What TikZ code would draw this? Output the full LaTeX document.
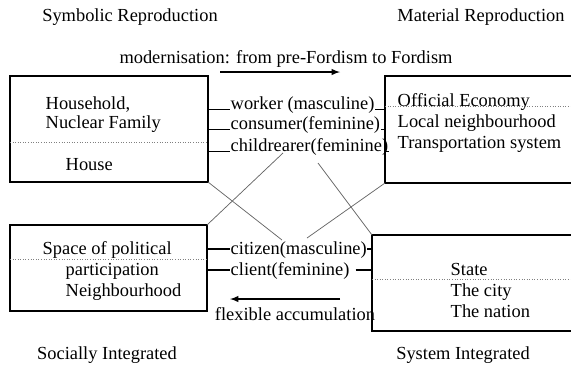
\documentclass[tikz,border=0pt]{standalone}
\usepackage{fontspec}
\setmainfont{Liberation Serif}
\usetikzlibrary{calc}

\begin{document}
\begin{tikzpicture}[x=0.543pt, y=-0.543pt, thick,
  txt/.style={inner sep=0pt, anchor=west, text height=1.5ex, text depth=.25ex},
  title/.style={inner sep=0pt},
  sep/.style={thin, densely dotted, gray},
  cross/.style={thin, gray!80!black},
  stub/.style={semithick},
]
  \useasboundingbox (0,0) rectangle (571,367);
  % corners of the four boxes
  \coordinate (A1) at (10,76);   \coordinate (A2) at (208,182);
  \coordinate (B1) at (385,76);  \coordinate (B2) at (571,183);
  \coordinate (C1) at (10,225);  \coordinate (C2) at (207,311);
  \coordinate (D1) at (372,235); \coordinate (D2) at (571,331);
  \draw (A1) rectangle (A2);
  \draw (B2 |- B1) -- (B1) |- (B2);
  \draw (C1) rectangle (C2);
  \draw (D2 |- D1) -- (D1) |- (D2);
  \draw[sep] (10,142) -- (208,142);
  \draw[sep] (385,106) -- (571,106);
  \draw[sep] (10,259) -- (207,259);
  \draw[sep] (372,279) -- (571,279);
  % headings
  \node[title] (symbolic) at (130,17) {Symbolic Reproduction};
  \node[title] (material) at (481,17) {Material Reproduction};
  \node[title] (socially) at (107,355) {Socially Integrated};
  \node[title] (system)   at (463,355) {System Integrated};
  \node[title] (modern)   at (286,59) {modernisation: from pre-Fordism to Fordism};
  \node[title] (flexible) at (295,314) {flexible accumulation};
  % box texts
  \node[txt] (household) at (45,104) {Household,};
  \node[txt] (nuclear)   at (45,123) {Nuclear Family};
  \node[txt] (house)     at (65,165) {House};
  \node[txt] (official)  at (397,101) {Official Economy};
  \node[txt] (local)     at (397,122) {Local neighbourhood};
  \node[txt] (transport) at (397,143) {Transportation system};
  \node[txt] (space)     at (42,249) {Space of political};
  \node[txt] (particip)  at (65,270) {participation};
  \node[txt] (neighbour) at (65,291) {Neighbourhood};
  \node[txt] (state)     at (450,270) {State};
  \node[txt] (city)      at (450,291) {The city};
  \node[txt] (nation)    at (450,312) {The nation};
  % roles between the boxes
  \node[txt] (worker)      at (230,104) {worker (masculine)};
  \node[txt] (consumer)    at (230,124) {consumer(feminine)};
  \node[txt] (childrearer) at (230,146) {childrearer(feminine)};
  \node[txt] (citizen)     at (230,249) {citizen(masculine)};
  \node[txt] (client)      at (230,270) {client(feminine)};
  \foreach \r in {worker,consumer,childrearer} {
    \draw[stub] (\r.base west -| A2) -- (\r.base west);
    \draw[stub] (\r.base east) -- (\r.base east -| B1);
  }
  \draw[stub] (citizen.west -| C2) -- (citizen.west);
  \draw[stub] (citizen.east) -- (citizen.east -| D1);
  \draw[stub] (client.west -| C2) -- (client.west);
  \draw[stub] ([xshift=3pt]client.east) -- (client.east -| D1);
  % arrows
  \coordinate (m1) at (220,72);  \coordinate (m2) at (340,72);
  \coordinate (f1) at (340,299); \coordinate (f2) at (230,299);
  \draw[semithick, -latex] (m1) -- (m2);
  \draw[semithick, -latex] (f1) -- (f2);
  % crossing lines
  \coordinate (x1) at (282,240); \coordinate (x2) at (283,153);
  \coordinate (x3) at (318,163); \coordinate (x4) at (307,238);
  \draw[cross] (A2) -- (x1);
  \draw[cross] (x2) -- (C2 |- C1);
  \draw[cross] (x3) -- (D1);
  \draw[cross] (B1 |- B2) -- (x4);
\end{tikzpicture}
\end{document}
